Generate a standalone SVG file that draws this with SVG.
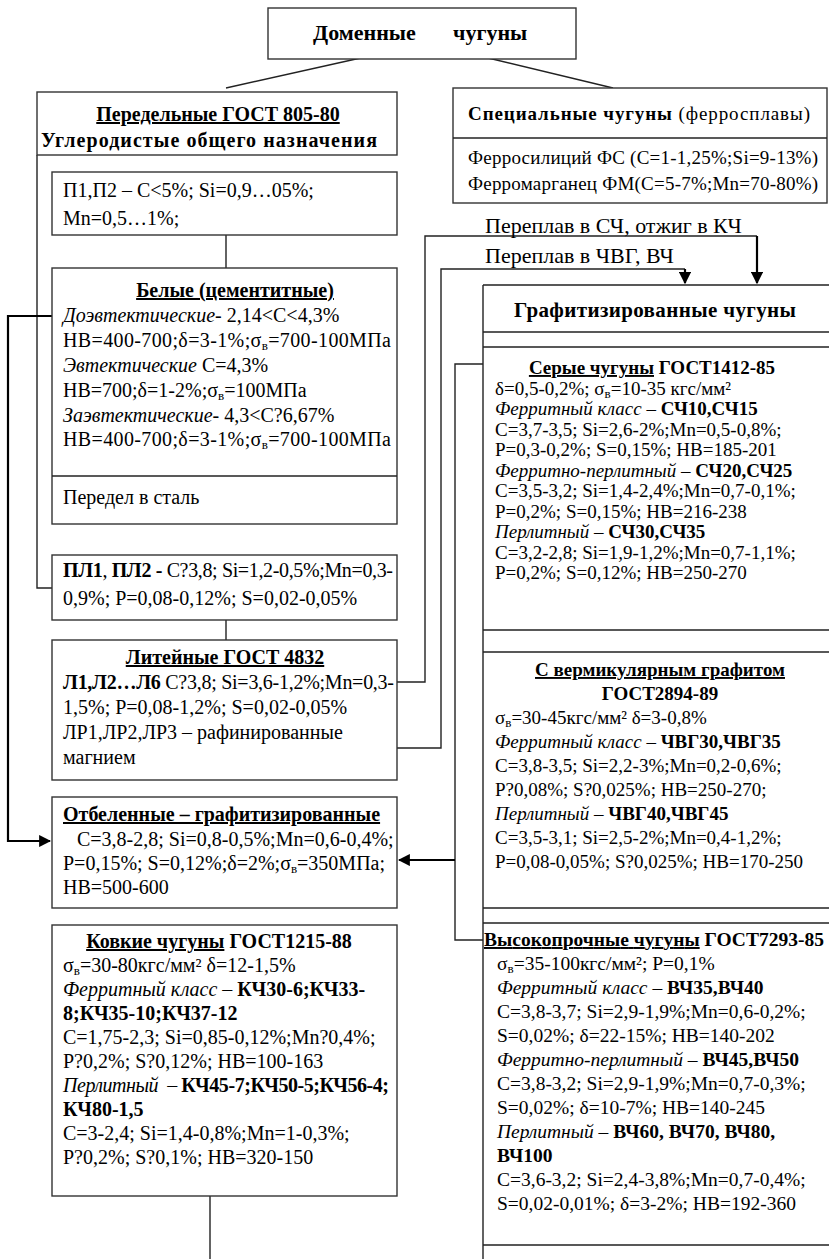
<svg xmlns="http://www.w3.org/2000/svg" width="829" height="1259" viewBox="0 0 829 1259">
<style>
text{font-family:"Liberation Serif","Times New Roman",serif;fill:#000}
.l{font-size:20px}
.r{font-size:19px}
.v{font-size:19.5px}
.b{font-weight:bold}
.i{font-style:italic}
.u{text-decoration:underline}
.s{font-size:13px}
.box{fill:#fff;stroke:#333;stroke-width:1.4}
.ln{fill:none;stroke:#222;stroke-width:1.4}
.ar{fill:none;stroke:#000;stroke-width:2.2}
</style>
<defs>
<marker id="ah" viewBox="0 0 10 10" refX="9" refY="5" markerWidth="5.5" markerHeight="5.5" orient="auto" markerUnits="strokeWidth">
<path d="M0,0 L10,5 L0,10 z" fill="#000"/>
</marker>
</defs>
<rect width="829" height="1259" fill="#fff"/>

<g id="connectors">
<path class="ln" d="M365,57 L226,88"/>
<path class="ln" d="M484,57 L613,88"/>
<path class="ln" d="M37,155 L37,588 L52,588"/>
<path class="ln" d="M226,235 L226,268"/>
<path class="ln" d="M226,620 L226,640"/>
<path class="ar" d="M52,316 L8,316 L8,841 L50,841" marker-end="url(#ah)"/>
<path class="ln" d="M397,682 L425,682 L425,236 L757,236"/>
<path class="ar" d="M757,236 L757,283" marker-end="url(#ah)"/>
<path class="ln" d="M397,748 L441,748 L441,269 L685,269"/>
<path class="ar" d="M685,269 L685,283" marker-end="url(#ah)"/>
<path class="ln" d="M483,364 L455,364 L455,940 L483,940"/>
<path class="ar" d="M455,860 L399,860" marker-end="url(#ah)"/>
<path class="ln" d="M210,1196 L210,1259"/>
</g>

<g id="n-domennye">
<rect class="box" x="268" y="8" width="308" height="51"/>
<text class="b" style="font-size:22px" y="40"><tspan x="313">Доменные</tspan><tspan x="453">чугуны</tspan></text>
</g>

<g id="n-peredelnye">
<rect class="box" x="37" y="92" width="360" height="63"/>
<text class="l b u" x="218" y="121" text-anchor="middle">Передельные ГОСТ 805-80</text>
<text class="l b" x="209" y="147" text-anchor="middle" textLength="336">Углеродистые общего назначения</text>
</g>

<g id="n-p1">
<rect class="box" x="52" y="172" width="345" height="63"/>
<text class="l" x="63" y="197">П1,П2 – С&lt;5%; Si=0,9…05%;</text>
<text class="l" x="63" y="225">Mn=0,5…1%;</text>
</g>

<g id="n-belye">
<rect class="box" x="52" y="268" width="345" height="256"/>
<line class="ln" x1="52" y1="476" x2="397" y2="476"/>
<text class="l b u" x="235" y="297" text-anchor="middle">Белые (цементитные)</text>
<text class="l" x="63" y="322"><tspan class="i">Доэвтектические</tspan>- 2,14&lt;С&lt;4,3%</text>
<text class="l" x="63" y="347" textLength="328">HB=400-700;δ=3-1%;σ<tspan class="s" dy="3">в</tspan><tspan dy="-3">=700-100МПа</tspan></text>
<text class="l" x="63" y="372"><tspan class="i">Эвтектические</tspan> С=4,3%</text>
<text class="l" x="63" y="397">HB=700;δ=1-2%;σ<tspan class="s" dy="3">в</tspan><tspan dy="-3">=100МПа</tspan></text>
<text class="l" x="63" y="422"><tspan class="i">Заэвтектические</tspan>- 4,3&lt;С?6,67%</text>
<text class="l" x="63" y="446" textLength="328">HB=400-700;δ=3-1%;σ<tspan class="s" dy="3">в</tspan><tspan dy="-3">=700-100МПа</tspan></text>
<text class="l" x="63" y="504">Передел в сталь</text>
</g>

<g id="n-pl1">
<rect class="box" x="52" y="555" width="345" height="65"/>
<text class="l" x="63" y="577" textLength="330"><tspan class="b">ПЛ1</tspan>, <tspan class="b">ПЛ2 -</tspan> С?3,8; Si=1,2-0,5%;Mn=0,3-</text>
<text class="l" x="63" y="605">0,9%; P=0,08-0,12%; S=0,02-0,05%</text>
</g>

<g id="n-liteinye">
<rect class="box" x="52" y="640" width="345" height="140"/>
<text class="l b u" x="225" y="664" text-anchor="middle">Литейные ГОСТ 4832</text>
<text class="l" x="63" y="689" textLength="331"><tspan class="b">Л1,Л2…Л6</tspan> С?3,8; Si=3,6-1,2%;Mn=0,3-</text>
<text class="l" x="63" y="714">1,5%; P=0,08-1,2%; S=0,02-0,05%</text>
<text class="l" x="63" y="739">ЛР1,ЛР2,ЛР3 – рафинированные</text>
<text class="l" x="63" y="764">магнием</text>
</g>

<g id="n-otbelennye">
<rect class="box" x="52" y="797" width="345" height="111"/>
<text class="l b u" x="63" y="821">Отбеленные – графитизированные</text>
<text class="l" x="77" y="846">С=3,8-2,8; Si=0,8-0,5%;Mn=0,6-0,4%;</text>
<text class="l" x="63" y="870">P=0,15%; S=0,12%;δ=2%;σ<tspan class="s" dy="3">в</tspan><tspan dy="-3">=350МПа;</tspan></text>
<text class="l" x="63" y="894">HB=500-600</text>
</g>

<g id="n-kovkie">
<rect class="box" x="52" y="925" width="345" height="271"/>
<text class="l b" x="219" y="948" text-anchor="middle"><tspan class="u">Ковкие чугуны</tspan> ГОСТ1215-88</text>
<text class="l" x="63" y="972">σ<tspan class="s" dy="3">в</tspan><tspan dy="-3">=30-80кгс/мм² δ=12-1,5%</tspan></text>
<text class="l" x="63" y="996"><tspan class="i">Ферритный класс</tspan> – <tspan class="b">КЧ30-6;КЧ33-</tspan></text>
<text class="l b" x="63" y="1020">8;КЧ35-10;КЧ37-12</text>
<text class="l" x="63" y="1044">С=1,75-2,3; Si=0,85-0,12%;Mn?0,4%;</text>
<text class="l" x="63" y="1068">P?0,2%; S?0,12%; HB=100-163</text>
<text class="l" x="63" y="1092" textLength="326"><tspan class="i">Перлитный</tspan>&#160; – <tspan class="b">КЧ45-7;КЧ50-5;КЧ56-4;</tspan></text>
<text class="l b" x="63" y="1116">КЧ80-1,5</text>
<text class="l" x="63" y="1140">С=3-2,4; Si=1,4-0,8%;Mn=1-0,3%;</text>
<text class="l" x="63" y="1164">P?0,2%; S?0,1%; HB=320-150</text>
</g>

<g id="n-specialnye">
<rect class="box" x="453" y="88" width="374" height="115"/>
<line class="ln" x1="453" y1="138" x2="827" y2="138"/>
<text class="r" x="468" y="120" textLength="342"><tspan class="b">Специальные чугуны</tspan> (ферросплавы)</text>
<text class="r" x="468" y="164" textLength="350">Ферросилиций ФС (С=1-1,25%;Si=9-13%)</text>
<text class="r" x="468" y="190" textLength="350">Ферромарганец ФМ(С=5-7%;Mn=70-80%)</text>
</g>

<g id="labels">
<text style="font-size:22px" x="485" y="233">Переплав в СЧ, отжиг в КЧ</text>
<text style="font-size:22px" x="485" y="263">Переплав в ЧВГ, ВЧ</text>
</g>

<g id="n-grafit">
<path class="ln" d="M483,285 L483,1259 M483,285 L829,285 M483,332 L829,332 M483,347 L829,347 M483,630 L829,630 M483,652 L829,652 M483,908 L829,908 M483,923 L829,923 M483,1245 L829,1245"/>
<text class="b" style="font-size:21px" x="655" y="317" text-anchor="middle" textLength="282">Графитизированные чугуны</text>
</g>

<g id="n-serye">
<text class="r b" x="652" y="374" text-anchor="middle"><tspan class="u">Серые чугуны</tspan> ГОСТ1412-85</text>
<text class="r" x="495" y="394.5">δ=0,5-0,2%; σ<tspan class="s" dy="3">в</tspan><tspan dy="-3">=10-35 кгс/мм²</tspan></text>
<text class="r" x="495" y="415"><tspan class="i">Ферритный класс</tspan> – <tspan class="b">СЧ10,СЧ15</tspan></text>
<text class="r" x="495" y="435.5">С=3,7-3,5; Si=2,6-2%;Mn=0,5-0,8%;</text>
<text class="r" x="495" y="456">P=0,3-0,2%; S=0,15%; HB=185-201</text>
<text class="r" x="495" y="476.5"><tspan class="i">Ферритно-перлитный</tspan> – <tspan class="b">СЧ20,СЧ25</tspan></text>
<text class="r" x="495" y="497">С=3,5-3,2; Si=1,4-2,4%;Mn=0,7-0,1%;</text>
<text class="r" x="495" y="517.5">P=0,2%; S=0,15%; HB=216-238</text>
<text class="r" x="495" y="538"><tspan class="i">Перлитный</tspan> – <tspan class="b">СЧ30,СЧ35</tspan></text>
<text class="r" x="495" y="558.5">С=3,2-2,8; Si=1,9-1,2%;Mn=0,7-1,1%;</text>
<text class="r" x="495" y="579">P=0,2%; S=0,12%; HB=250-270</text>
</g>

<g id="n-vermik">
<text class="r b u" x="660" y="676" text-anchor="middle">С вермикулярным графитом</text>
<text class="r b" x="660" y="700" text-anchor="middle">ГОСТ2894-89</text>
<text class="r" x="495" y="724">σ<tspan class="s" dy="3">в</tspan><tspan dy="-3">=30-45кгс/мм² δ=3-0,8%</tspan></text>
<text class="r" x="495" y="748"><tspan class="i">Ферритный класс</tspan> – <tspan class="b">ЧВГ30,ЧВГ35</tspan></text>
<text class="r" x="495" y="772">С=3,8-3,5; Si=2,2-3%;Mn=0,2-0,6%;</text>
<text class="r" x="495" y="796">P?0,08%; S?0,025%; HB=250-270;</text>
<text class="r" x="495" y="820"><tspan class="i">Перлитный</tspan> – <tspan class="b">ЧВГ40,ЧВГ45</tspan></text>
<text class="r" x="495" y="844">С=3,5-3,1; Si=2,5-2%;Mn=0,4-1,2%;</text>
<text class="r" x="495" y="868">P=0,08-0,05%; S?0,025%; HB=170-250</text>
</g>

<g id="n-vysokoprochnye">
<text class="v b" x="484" y="946" textLength="340"><tspan class="u">Высокопрочные чугуны</tspan> ГОСТ7293-85</text>
<text class="v" x="497" y="970">σ<tspan class="s" dy="3">в</tspan><tspan dy="-3">=35-100кгс/мм²; P=0,1%</tspan></text>
<text class="v" x="497" y="994"><tspan class="i">Ферритный класс</tspan> – <tspan class="b">ВЧ35,ВЧ40</tspan></text>
<text class="v" x="497" y="1018">С=3,8-3,7; Si=2,9-1,9%;Mn=0,6-0,2%;</text>
<text class="v" x="497" y="1042">S=0,02%; δ=22-15%; HB=140-202</text>
<text class="v" x="497" y="1066"><tspan class="i">Ферритно-перлитный</tspan> – <tspan class="b">ВЧ45,ВЧ50</tspan></text>
<text class="v" x="497" y="1090">С=3,8-3,2; Si=2,9-1,9%;Mn=0,7-0,3%;</text>
<text class="v" x="497" y="1114">S=0,02%; δ=10-7%; HB=140-245</text>
<text class="v" x="497" y="1138"><tspan class="i">Перлитный</tspan> – <tspan class="b">ВЧ60, ВЧ70, ВЧ80,</tspan></text>
<text class="v b" x="497" y="1162">ВЧ100</text>
<text class="v" x="497" y="1186">С=3,6-3,2; Si=2,4-3,8%;Mn=0,7-0,4%;</text>
<text class="v" x="497" y="1210">S=0,02-0,01%; δ=3-2%; HB=192-360</text>
</g>
</svg>
